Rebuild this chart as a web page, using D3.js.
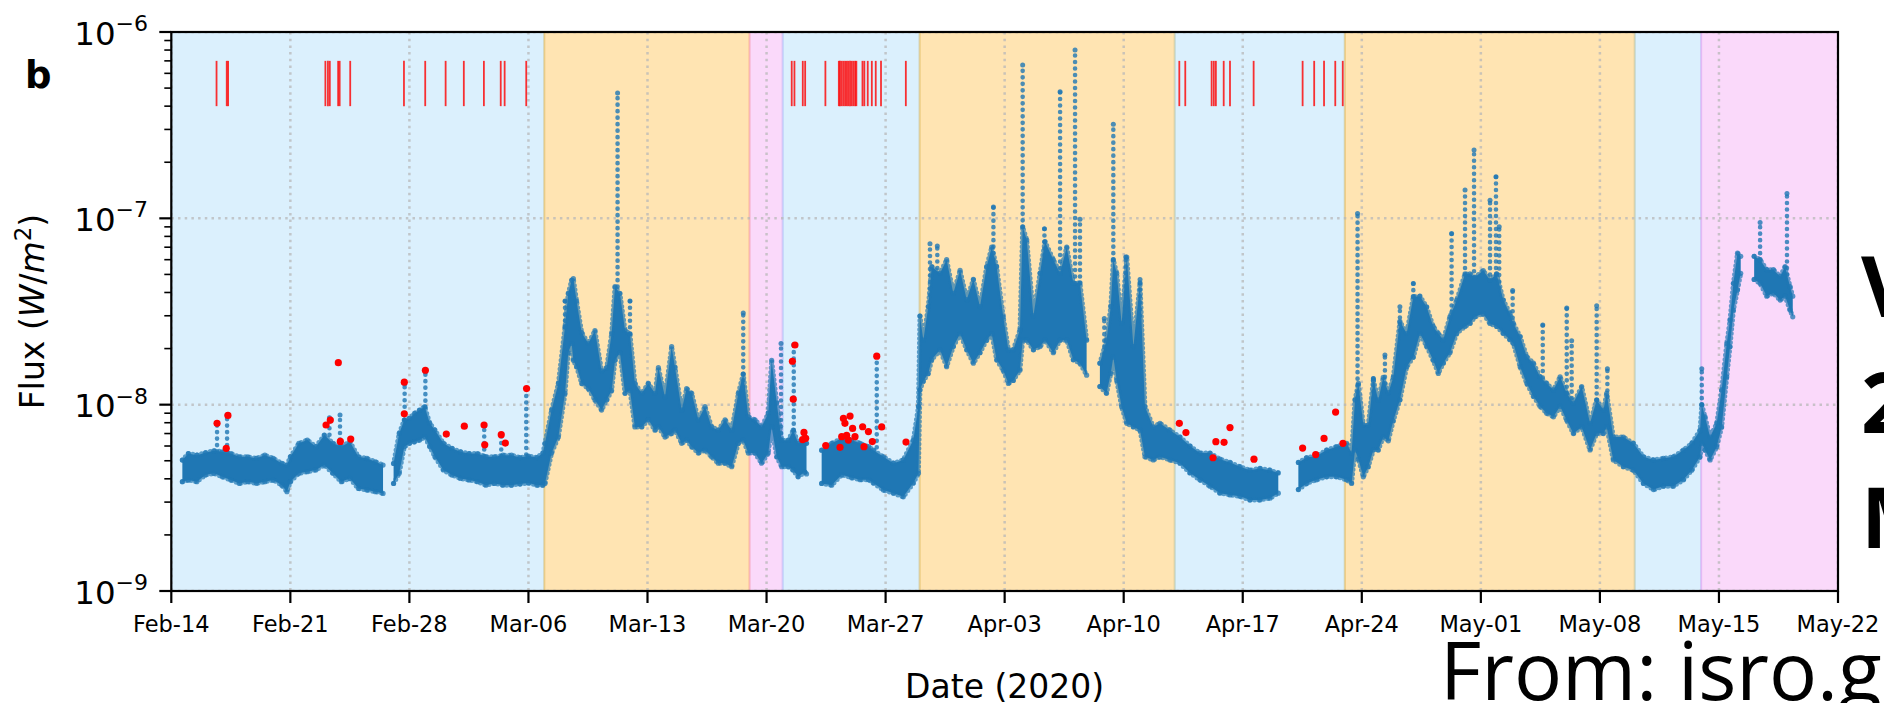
<!DOCTYPE html>
<html>
<head>
<meta charset="utf-8">
<script src="https://cdn.jsdelivr.net/npm/d3@7/dist/d3.min.js"></script>
<style>
  body { margin: 0; background: #fff; }
  svg { display: block; }
  text { font-family: "DejaVu Sans", sans-serif; fill: #000; }
</style>
</head>
<body>
<svg id="chart" width="1884" height="703"></svg>
<script>
// all times are days counted from 2020-02-14 00:00 UTC, fluxes are in units of 1e-9 W/m^2

// dense cloud of 1-minute points: upper and lower edge
const bandDay = [0.65, 1.0, 1.5, 2.0, 2.5, 3.0, 3.5, 4.0, 4.5, 5.0, 5.5, 6.0, 6.5, 6.8, 7.0, 7.5, 8.0, 8.5, 9.0, 9.5, 10.0, 10.5, 11.0, 11.5, 12.0, 12.45,
  13.07, 13.4, 13.7, 14.0, 14.3, 14.6, 14.9, 15.2, 15.5, 16.0, 16.5, 17.0, 17.5, 18.0, 18.5, 19.0, 19.5, 20.0, 20.5, 21.0, 21.5, 21.85,
  21.97, 22.36, 22.76, 23.15, 23.34, 23.54, 23.64, 23.83, 24.13, 24.52, 24.91, 25.3, 25.6, 25.89, 26.09, 26.38, 26.68, 26.97, 27.26, 27.66,
  28.05, 28.44, 28.64, 29.03, 29.42, 29.62, 30.01, 30.3, 30.6, 30.99, 31.38, 31.77, 32.16, 32.56, 32.95, 33.34, 33.63, 33.93, 34.32, 34.71,
  35.1, 35.3, 35.6, 35.89, 36.28, 36.57, 36.86, 37.25, 37.35,
  38.24, 38.83, 39.42, 40.0, 40.5, 41.0, 41.28, 41.87, 42.46, 43.04, 43.63, 43.93, 44.02, 44.22, 44.51, 44.71, 45.2, 45.59, 45.98, 46.38,
  46.77, 47.16, 47.55, 47.94, 48.24, 48.53, 48.92, 49.22, 49.51, 49.9, 50.06, 50.3, 50.69, 51.08, 51.37, 51.86, 52.26, 52.65, 53.04, 53.43, 53.82,
  54.6, 54.99, 55.24, 55.39, 55.59, 55.88, 56.18, 56.57, 56.96, 57.25, 57.74, 58.13, 58.72, 59.31, 59.9, 60.48, 61.07, 61.66, 62.25, 62.84,
  63.42, 64.01, 64.6, 65.09,
  66.27, 66.76, 67.34, 67.93, 68.52, 69.11, 69.4, 69.6, 69.8, 70.09, 70.38, 70.68, 70.97, 71.26, 71.56, 71.85, 72.24, 72.64, 73.03, 73.42,
  73.81, 74.2, 74.5, 74.79, 75.18, 75.58, 76.07, 76.36, 76.65, 77.14, 77.54, 77.93, 78.32, 78.71, 78.91, 79.31, 79.7, 80.09, 80.48, 80.87,
  81.27, 81.66, 82.05, 82.44, 82.93, 83.42, 83.81, 84.21, 84.4, 84.79, 85.38, 85.97, 86.56, 87.15, 87.73, 88.32, 88.91, 89.4, 89.89, 89.99,
  90.18, 90.48, 90.87, 91.16, 91.46, 91.65, 91.85, 92.09, 92.28,
  93.07, 93.42, 93.81, 94.2, 94.6, 94.89, 95.18, 95.34];
const bandHi = [5.04, 5.47, 5.36, 5.52, 5.66, 5.59, 5.47, 5.25, 5.25, 5.15, 5.36, 5.15, 4.84, 4.74, 5.25, 6.2, 6.46, 5.95, 6.87, 6.2, 5.95, 6.32, 5.25, 5.15, 4.94, 4.74,
  4.84, 7.01, 8.27, 8.44, 8.98, 9.35, 9.75, 7.94, 7.31, 6.2, 5.83, 5.59, 5.47, 5.47, 5.25, 5.25, 5.36, 5.36, 5.2, 5.3, 5.2, 5.5,
  6.2, 9.35, 13, 26.2, 39.5, 46.5, 47.5, 36, 24.4, 21.3, 25, 15.2, 15.8, 24, 43, 39.5, 25, 24, 13, 11.5,
  13, 11.5, 15.8, 11, 20.5, 15.8, 9.35, 12.2, 11.5, 8.3, 9.75, 7.6, 7.3, 8.3, 7.3, 11.5, 14.6, 8.6, 8.3, 7.6,
  9.0, 17.3, 10.2, 6.45, 6.45, 7.3, 6.2, 6.45, 6.2,
  5.7, 6.2, 6.6, 6.46, 6.2, 5.95, 5.7, 5.25, 4.85, 5.05, 6.46, 9.75, 29.9, 22.2, 33.6, 55, 50.7, 60, 39.6, 52.6,
  36.6, 47, 33.6, 55, 70, 55, 29.5, 19.7, 19.7, 25.2, 90, 76.5, 30, 50.7, 75, 60, 50.7, 70, 45, 45, 22.2,
  16.7, 22.2, 33.6, 60, 50.7, 27.3, 62, 20.5, 45, 9.75, 7.6, 7.94, 7.3, 6.7, 6.0, 5.5, 5.5, 5.1, 4.9, 4.65,
  4.45, 4.55, 4.45, 4.3,
  4.9, 5.2, 5.3, 5.71, 5.95, 6.2, 5.5, 10.6, 13, 7.8, 7.8, 13.5, 10.6, 14, 11.6, 14, 28, 24.1, 38, 38.2,
  33.5, 26.3, 24.1, 22.3, 29.6, 36.4, 50.3, 50.3, 48.3, 52.5, 46.6, 50.3, 36.4, 30.8, 27.3, 23.2, 18.1, 16.7, 14.1, 13,
  12, 14.1, 11.5, 10.2, 12.5, 7.95, 10.6, 9.35, 11.5, 6.7, 6.7, 6.2, 5.25, 5.05, 5.15, 5.25, 5.71, 6.2, 7.3, 10,
  8.6, 6.7, 7.95, 12, 21.3, 28.4, 44.8, 65, 62.5,
  62.5, 60, 53, 53, 48.8, 55, 43, 38.2];
const bandLo = [3.86, 3.94, 3.86, 4.19, 4.28, 4.10, 3.94, 3.78, 3.86, 3.78, 3.86, 3.94, 3.70, 3.41, 3.86, 4.28, 4.37, 4.46, 4.74, 4.28, 3.86, 4.02, 3.55, 3.48, 3.41, 3.34,
  3.78, 4.28, 5.95, 6.2, 6.32, 6.46, 6.73, 5.95, 5.25, 4.46, 4.19, 4.02, 3.94, 3.86, 3.70, 3.78, 3.70, 3.70, 3.75, 3.8, 3.7, 3.7,
  3.78, 5.5, 6.7, 11.5, 19, 21.3, 17.3, 16, 13, 12.2, 10.6, 9.35, 10.6, 11.9, 17.3, 19, 11.5, 11.9, 7.6, 7.6,
  8.3, 7.3, 7.6, 6.7, 7.0, 7.3, 6.2, 6.45, 5.95, 5.5, 5.7, 5.25, 4.85, 4.85, 4.65, 6.2, 6.45, 5.5, 5.5, 4.85,
  5.5, 7.6, 5.25, 4.65, 4.65, 4.45, 4.1, 4.35, 4.25,
  3.78, 3.7, 4.2, 4.05, 3.96, 3.96, 3.8, 3.48, 3.35, 3.2, 3.8, 4.28, 12, 13.4, 14.7, 17.4, 19.7, 16, 20.5, 24,
  19.7, 16.7, 19, 22.2, 24, 17.4, 15.3, 13, 13.5, 15.3, 22.2, 22.2, 19.7, 20.5, 22.2, 19, 22.2, 22.2, 17.4, 16.7, 14.4,
  12.5, 11.5, 14.7, 18, 13.5, 9.75, 7.94, 7.6, 7.3, 5.25, 5.05, 5.25, 5.05, 4.85, 4.3, 3.95, 3.65, 3.35, 3.28, 3.22,
  3.08, 3.08, 3.15, 3.35,
  3.5, 3.78, 3.95, 4.1, 4.1, 3.95, 3.78, 5.71, 5.1, 4.1, 4.65, 5.71, 5.71, 6.7, 6.4, 8.2, 10.6, 16, 18, 24.1,
  20.6, 17.3, 14.7, 16.7, 19, 24.1, 26.3, 27.3, 29.6, 30.8, 27.3, 26.3, 24.1, 22.3, 21.3, 16, 13, 11.1, 9.8, 9.0,
  8.6, 9.8, 8.25, 7.0, 7.6, 5.71, 7.0, 7.0, 7.6, 5.05, 4.65, 4.45, 3.78, 3.5, 3.65, 3.65, 3.95, 4.45, 5.25, 6.2,
  5.71, 5.05, 5.95, 7.6, 14.1, 20.5, 32.2, 41.2, 50.7,
  47, 44.8, 38.2, 39.7, 36.4, 38.2, 32.2, 29.6];
// the record has holes after these samples
const gapAfter = [12.45, 37.35, 53.82, 65.09, 92.28];

// short bursts standing out of the cloud as columns of points
const spikeDay = [2.69, 3.28, 9.3, 9.92, 13.72, 14.94, 18.4, 19.4, 20.87, 23.15, 26.24, 26.97, 33.63, 35.85, 36.6, 41.48,
  44.61, 45.04, 48.34, 50.06, 51.34, 52.26, 53.14, 53.43, 54.86, 55.39, 56.12, 56.96, 69.75, 70.68, 71.36, 72.24, 73.03,
  75.28, 76.07, 76.6, 77.54, 77.89, 78.08, 78.87, 80.64, 82.05, 82.34, 83.81, 84.44, 89.99, 93.42, 95.0];
const spikeBase = [5.6, 5.6, 6.9, 6.0, 8.3, 9.7, 5.3, 5.3, 5.4, 26, 43, 24, 11.5, 6.5, 7.3, 5.9,
  33, 50, 60, 90, 50, 50, 45, 45, 16, 60, 40, 30, 10, 10, 12, 25, 38,
  29, 50, 48, 46, 50, 36, 27, 14, 11.5, 10, 10.6, 11, 10, 60, 50];
const spikeTop = [7.9, 8.8, 8.5, 8.8, 12.9, 15.0, 7.8, 6.9, 12.2, 36, 470, 36, 31, 21.3, 21, 18.2,
  73, 71, 115, 665, 88, 478, 800, 99, 29, 320, 62, 47, 106, 13.8, 18.5, 33.5, 44.7,
  83, 142, 233, 125, 167, 90, 41, 26.8, 33, 22, 34, 15.6, 15.6, 95, 136];

// detected events (red dots) and their times (red marks at the top)
const peakDay = [2.69, 3.33, 3.23, 9.10, 9.35, 9.82, 9.94, 10.55, 13.70, 13.70, 14.94, 16.17, 17.23, 18.39, 18.43, 19.40, 19.64, 20.89,
  36.52, 36.57, 36.67, 37.12, 37.20, 37.30, 38.48,
  39.32, 39.42, 39.52, 39.61, 39.71, 39.81, 39.91, 40.06, 40.20, 40.65, 40.73, 40.99, 41.22, 41.48, 41.77, 43.20,
  59.27, 59.66, 61.25, 61.42, 61.90, 62.25, 63.66, 66.52, 67.29, 67.78, 68.46, 68.89];
const peakFlux = [7.94, 8.76, 5.83, 7.78, 8.27, 16.8, 6.35, 6.54, 13.2, 8.93, 15.3, 6.95, 7.67, 7.78, 6.09, 6.9, 6.22, 12.2,
  17.1, 10.7, 20.9, 6.5, 7.1, 6.6, 6.03,
  5.9, 6.73, 8.44, 7.94, 6.85, 6.46, 8.69, 7.46, 6.73, 7.61, 5.95, 7.17, 6.34, 18.2, 7.6, 6.3,
  7.94, 7.08, 5.19, 6.33, 6.28, 7.53, 5.1, 5.85, 5.4, 6.59, 9.12, 6.2];
const flareDay = [2.66, 3.26, 3.34, 9.06, 9.21, 9.32, 9.81, 9.9, 10.52, 13.68, 14.93, 16.13, 17.2, 18.38, 19.37, 19.6, 20.87,
  36.48, 36.64, 37.13, 37.27, 38.46, 39.25, 39.32, 39.42, 39.52, 39.62, 39.72, 39.81, 39.91, 40.01, 40.11, 40.21, 40.28,
  40.64, 40.75, 40.95, 41.19, 41.42, 41.73, 43.19,
  59.27, 59.62, 61.17, 61.3, 61.42, 61.88, 62.25, 63.64, 66.52, 67.2, 67.78, 68.44, 68.88];
const flareMark = [400, 700];

// shaded intervals
const spanEdges = [0, 21.93, 34, 35.95, 44, 59, 69, 86.05, 89.95, 98];
const spanKind = ["lightskyblue", "orange", "violet", "lightskyblue", "orange", "lightskyblue", "orange", "lightskyblue", "violet"];

const xTicks = ["2020-02-14", "2020-02-21", "2020-02-28", "2020-03-06", "2020-03-13", "2020-03-20", "2020-03-27", "2020-04-03",
  "2020-04-10", "2020-04-17", "2020-04-24", "2020-05-01", "2020-05-08", "2020-05-15", "2020-05-22"];
const yDecades = [-9, -8, -7, -6];

const W = 1884, H = 703;
const m = { left: 171.3, right: 1838, top: 32, bottom: 591 };
const t0 = Date.UTC(2020, 1, 14);
const toDate = d => new Date(t0 + d * 864e5);
const nW = v => v * 1e-9;

const x = d3.scaleUtc().domain([toDate(0), toDate(98)]).range([m.left, m.right]);
const y = d3.scaleLog().domain([1e-9, 1e-6]).range([m.bottom, m.top]);
const xd = d => x(toDate(d));

const svg = d3.select("#chart");
svg.append("rect").attr("width", W).attr("height", H).attr("fill", "#fff");

svg.append("defs").append("clipPath").attr("id", "plot")
  .append("rect").attr("x", m.left).attr("y", m.top)
  .attr("width", m.right - m.left).attr("height", m.bottom - m.top);

const plot = svg.append("g").attr("clip-path", "url(#plot)");

// shaded spans, edge drawn in the same translucent colour like axvspan
spanKind.forEach((c, i) => {
  plot.append("rect")
    .attr("x", xd(spanEdges[i])).attr("y", m.top)
    .attr("width", xd(spanEdges[i + 1]) - xd(spanEdges[i]))
    .attr("height", m.bottom - m.top)
    .attr("fill", c).attr("fill-opacity", 0.3)
    .attr("stroke", c).attr("stroke-opacity", 0.3).attr("stroke-width", 2);
});

// grid
const grid = plot.append("g").attr("stroke", "#b8b8b8").attr("stroke-width", 2.5)
  .attr("stroke-dasharray", "2.5 4.2").attr("opacity", 0.75);
xTicks.forEach(s => {
  const gx = x(new Date(s + "T00:00:00Z"));
  grid.append("line").attr("x1", gx).attr("x2", gx).attr("y1", m.top).attr("y2", m.bottom);
});
yDecades.forEach(e => {
  const gy = y(Math.pow(10, e));
  grid.append("line").attr("x1", m.left).attr("x2", m.right).attr("y1", gy).attr("y2", gy);
});

// split the samples into the pieces between data gaps
const samples = bandDay.map((d, i) => ({ t: d, hi: bandHi[i], lo: bandLo[i] }));
const pieces = [];
let cur = [];
samples.forEach(s => {
  cur.push(s);
  if (gapAfter.includes(s.t)) { pieces.push(cur); cur = []; }
});
if (cur.length) pieces.push(cur);

const blue = "#1f77b4";
const area = d3.area().x(d => xd(d.t)).y0(d => y(nW(d.lo))).y1(d => y(nW(d.hi)));
const edgeHi = d3.line().x(d => xd(d.t)).y(d => y(nW(d.hi)));
const edgeLo = d3.line().x(d => xd(d.t)).y(d => y(nW(d.lo)));

const cloud = plot.append("g");
// spikes first so the dense cloud sits over their bases
spikeDay.forEach((d, i) => {
  cloud.append("line")
    .attr("x1", xd(d)).attr("x2", xd(d))
    .attr("y1", y(nW(spikeBase[i]))).attr("y2", y(nW(spikeTop[i])))
    .attr("stroke", blue).attr("stroke-width", 4.6).attr("stroke-linecap", "round")
    .attr("stroke-dasharray", "0 6.5").attr("opacity", 0.8);
  cloud.append("circle").attr("cx", xd(d)).attr("cy", y(nW(spikeTop[i]))).attr("r", 2.5)
    .attr("fill", blue).attr("opacity", 0.8);
});

pieces.forEach(p => {
  cloud.append("path").datum(p).attr("d", area).attr("fill", blue);
  [edgeHi, edgeLo].forEach(fn => {
    cloud.append("path").datum(p).attr("d", fn).attr("fill", "none")
      .attr("stroke", blue).attr("stroke-width", 5).attr("stroke-linecap", "round")
      .attr("stroke-dasharray", "0 4.5").attr("opacity", 0.7);
  });
});
samples.forEach(s => {
  cloud.append("circle").attr("cx", xd(s.t)).attr("cy", y(nW(s.hi))).attr("r", 2.6).attr("fill", blue).attr("opacity", 0.75);
  cloud.append("circle").attr("cx", xd(s.t)).attr("cy", y(nW(s.lo))).attr("r", 2.6).attr("fill", blue).attr("opacity", 0.75);
});

// red event dots
plot.append("g").selectAll("circle").data(peakDay).join("circle")
  .attr("cx", d => xd(d)).attr("cy", (d, i) => y(nW(peakFlux[i]))).attr("r", 3.6)
  .attr("fill", "#ff0000");

// red event marks at the top
plot.append("g").selectAll("line").data(flareDay).join("line")
  .attr("x1", d => xd(d)).attr("x2", d => xd(d))
  .attr("y1", y(nW(flareMark[0]))).attr("y2", y(nW(flareMark[1])))
  .attr("stroke", "#ff0000").attr("stroke-width", 1.8).attr("opacity", 0.8);

// frame
svg.append("rect").attr("x", m.left).attr("y", m.top)
  .attr("width", m.right - m.left).attr("height", m.bottom - m.top)
  .attr("fill", "none").attr("stroke", "#000").attr("stroke-width", 2.2);

// x axis
const fmt = d3.utcFormat("%b-%d");
const xa = svg.append("g");
xTicks.forEach(s => {
  const dt = new Date(s + "T00:00:00Z");
  const gx = x(dt);
  xa.append("line").attr("x1", gx).attr("x2", gx).attr("y1", m.bottom).attr("y2", m.bottom + 12)
    .attr("stroke", "#000").attr("stroke-width", 2.2);
  xa.append("text").attr("x", gx).attr("y", m.bottom + 41).attr("text-anchor", "middle")
    .attr("font-size", 22.5).text(fmt(dt));
});

// y axis with log minor ticks
const ya = svg.append("g");
y.ticks().forEach(v => {
  const major = Math.abs(Math.log10(v) - Math.round(Math.log10(v))) < 1e-9;
  ya.append("line").attr("x1", m.left - (major ? 12 : 7)).attr("x2", m.left)
    .attr("y1", y(v)).attr("y2", y(v))
    .attr("stroke", "#000").attr("stroke-width", major ? 2.2 : 1.6);
});
yDecades.forEach(e => {
  const t = ya.append("text").attr("x", 148).attr("y", y(Math.pow(10, e)) + 12.5)
    .attr("text-anchor", "end").attr("font-size", 32.5);
  t.append("tspan").text("10");
  t.append("tspan").attr("font-size", 22).attr("dy", -13.5).text("\u2212" + Math.abs(e));
});

// axis titles
const yl = svg.append("text").attr("transform", `translate(44,${(m.top + m.bottom) / 2}) rotate(-90)`)
  .attr("text-anchor", "middle").attr("font-size", 33);
yl.append("tspan").text("Flux (");
yl.append("tspan").attr("font-style", "italic").text("W");
yl.append("tspan").text("/");
yl.append("tspan").attr("font-style", "italic").text("m");
yl.append("tspan").attr("font-size", 23).attr("dy", -13).text("2");
yl.append("tspan").attr("dy", 13).text(")");

svg.append("text").attr("x", (m.left + m.right) / 2).attr("y", 698).attr("text-anchor", "middle")
  .attr("font-size", 33).text("Date (2020)");

svg.append("text").attr("x", 25).attr("y", 88).attr("font-size", 37).attr("font-weight", "bold").text("b");

// overlay text of the slide the figure was cut from
const big = svg.append("g").style("font-family", "'Open Sans', sans-serif");
[["V", 317], ["2", 433], ["M", 548]].forEach(([s, by]) => {
  big.append("text").attr("x", 1861).attr("y", by).attr("font-size", 84).attr("font-weight", "bold")
    .style("font-family", "'Open Sans', sans-serif").text(s);
});
big.append("text").attr("x", 1440).attr("y", 700).attr("font-size", 80)
  .style("font-family", "'Open Sans', sans-serif").text("From: isro.gov.in");
</script>
</body>
</html>
